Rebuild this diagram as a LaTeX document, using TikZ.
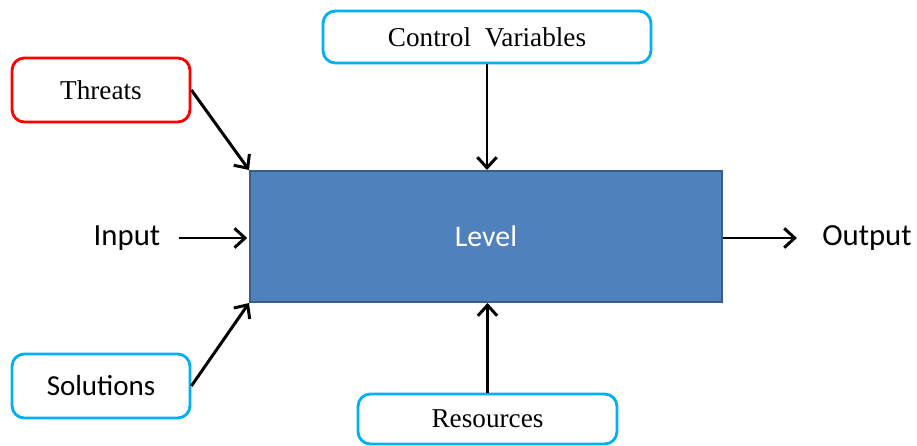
\documentclass[tikz,border=0pt]{standalone}
\usepackage{fontspec}
\setmainfont{Liberation Serif}
\setsansfont{Carlito}
\usetikzlibrary{arrows.meta}
\definecolor{levelblue}{HTML}{4F81BD}
\definecolor{leveledge}{HTML}{385D8A}
\definecolor{boxcyan}{HTML}{00B0F0}
\definecolor{boxred}{HTML}{FF0000}
\begin{document}
\begin{tikzpicture}[x=0.02cm,y=-0.02cm,
    factor/.style={draw=boxcyan,line width=1.6pt,rounded corners=7pt,fill=white,inner sep=0pt},
    serifbox/.style={factor,font=\fontsize{15.5}{18}\selectfont},
    sansbox/.style={factor,font=\sffamily\fontsize{16.5}{20}\selectfont},
    flowlabel/.style={inner sep=0pt,font=\sffamily\fontsize{17.5}{20}\selectfont},
    link/.style={line width=1.7pt,-{Straight Barb[length=6pt,width=11pt,line width=1.7pt]}}]
  \useasboundingbox (0,0) rectangle (917,446);
  \node[draw=leveledge,line width=1.2pt,fill=levelblue,text=white,
        font=\sffamily\fontsize{17}{20}\selectfont,
        minimum width=9.44cm,minimum height=2.62cm] (level) at (486,236.5) {Level};
  \node[serifbox,draw=boxred,minimum width=3.56cm,minimum height=1.28cm] (threats) at (101,90) {Threats};
  \node[serifbox,minimum width=6.56cm,minimum height=1.04cm] (control) at (487,37) {Control\ \ Variables};
  \node[sansbox,minimum width=3.56cm,minimum height=1.28cm] (solutions) at (101,386) {Solutions};
  \node[serifbox,minimum width=5.18cm,minimum height=1.0cm] (resources) at (487.5,419) {Resources};
  \node[flowlabel] (input) at (127,238) {Input};
  \node[flowlabel] (output) at (867,238) {Output};
  \begin{scope}[link]
    \draw (threats.east) to (level.north west);
    \draw (solutions.east) to (level.south west);
    \draw (control.south) to (control.south |- level.north);
    \draw (resources.north) to (resources.north |- level.south);
    \draw[shorten <=0.36cm,shorten >=1pt] (input.east) to (input.east -| level.west);
    \draw[shorten >=0.5cm] (level.east |- output.west) to (output.west);
  \end{scope}
\end{tikzpicture}
\end{document}
